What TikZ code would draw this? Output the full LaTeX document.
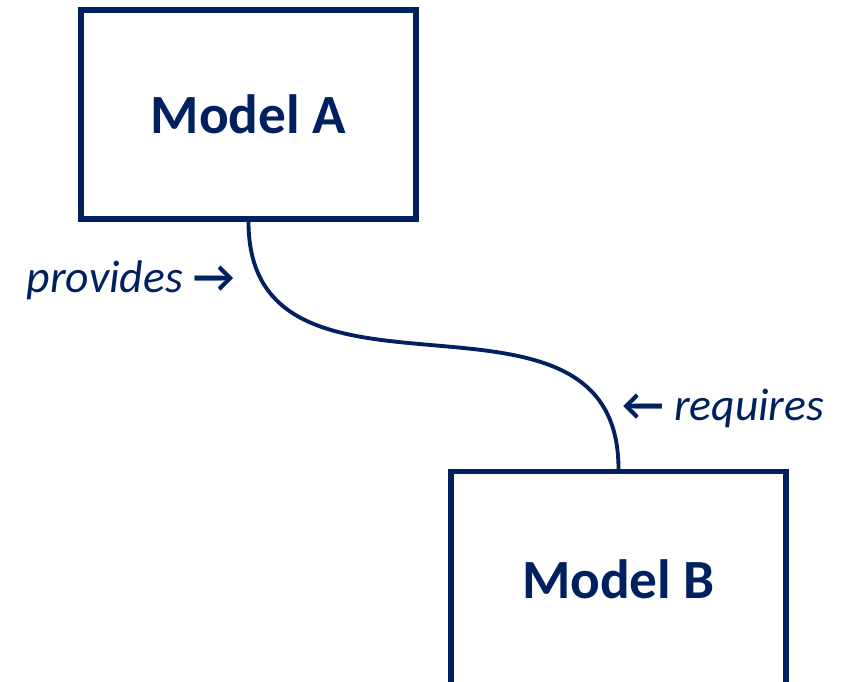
\documentclass[tikz,border=0pt]{standalone}
\usepackage{fontspec}
\setmainfont{Carlito}
\usetikzlibrary{positioning}
\definecolor{navy}{HTML}{002060}
\tikzset{
  model/.style={draw=navy, line width=3pt, minimum width=6.7cm, minimum height=4.18cm,
    text=navy, font=\fontsize{31.5}{36}\selectfont\bfseries, inner sep=0pt},
  role/.style={text=navy, font=\fontsize{26}{30}\selectfont\itshape, inner sep=0pt},
  link/.style={draw=navy, line width=2.2pt}
}
\begin{document}
\begin{tikzpicture}[x=0.02cm, y=-0.02cm]
    \useasboundingbox (0,0) rectangle (850,681);

    % Models
    \node[model] (modelA) at (248.5,114.5) {Model A};
    \node[model, minimum height=4.3cm] (modelB) at (618.5,579) {Model B};

    % Dependency
    \draw[link] (modelA.south) .. controls +(0,215) and +(0,-215) .. (modelB.north);

    % Labels
    \node[role, anchor=east] (provides) at (235,280) {provides {\upshape\bfseries →}};
    \node[role, anchor=west] (requires) at (622,408) {{\upshape\bfseries ←} requires};
\end{tikzpicture}
\end{document}
